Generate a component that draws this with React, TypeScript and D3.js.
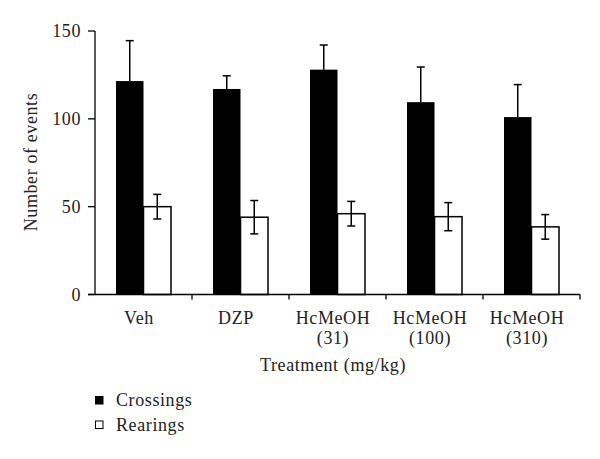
import React from "react";
import * as d3 from "d3";

const categories = ["Veh", "DZP", "HcMeOH\n(31)", "HcMeOH\n(100)", "HcMeOH\n(310)"];
const series = ["Crossings", "Rearings"];
const crossings = [121.5, 117, 128, 109.5, 101];
const crossingsErr = [23, 7.5, 14, 20, 18.5];
const rearings = [50, 44, 46, 44.3, 38.5];
const rearingsErr = [7, 9.5, 7, 8, 7];
const yTicks = [0, 50, 100, 150];

const W = 600;
const H = 459;
const FONT = "'Liberation Serif', 'Times New Roman', serif";
const LS = 0.6;

export default function App() {
  const x0 = 95;
  const x1 = 580;
  const yTop = 31;
  const yBot = 294.5;
  const x = d3.scaleBand<string>().domain(categories).range([x0, x1]).padding(0);
  const inner = d3.scaleBand<string>().domain(series).range([21, 76]).padding(0);
  const y = d3.scaleLinear().domain([0, 150]).range([yBot, yTop]);
  const bw = inner.bandwidth();

  return (
    <svg width={W} height={H} style={{ position: "absolute", left: 0, top: 0 }}>
      <rect x={0} y={0} width={W} height={H} fill="#fff" />
      {/* bars */}
      {categories.map((c, i) => {
        const bx = x(c)!;
        const cx = bx + inner("Crossings")!;
        const rx = bx + inner("Rearings")!;
        const cTop = y(crossings[i]);
        const rTop = y(rearings[i]);
        const cMid = cx + bw / 2;
        const rMid = rx + bw / 2;
        const cErrY = y(crossings[i] + crossingsErr[i]);
        const rHi = y(rearings[i] + rearingsErr[i]);
        const rLo = y(rearings[i] - rearingsErr[i]);
        return (
          <g key={c}>
            <rect x={cx} y={cTop} width={bw} height={yBot - cTop} fill="#000" />
            <line x1={cMid} x2={cMid} y1={cTop} y2={cErrY} stroke="#000" strokeWidth={1.5} />
            <line x1={cMid - 4} x2={cMid + 4} y1={cErrY} y2={cErrY} stroke="#000" strokeWidth={1.5} />
            <rect x={rx} y={rTop} width={bw} height={yBot - rTop} fill="#fff" stroke="#000" strokeWidth={1.5} />
            <line x1={rMid} x2={rMid} y1={rLo} y2={rHi} stroke="#000" strokeWidth={1.5} />
            <line x1={rMid - 4} x2={rMid + 4} y1={rHi} y2={rHi} stroke="#000" strokeWidth={1.5} />
            <line x1={rMid - 4} x2={rMid + 4} y1={rLo} y2={rLo} stroke="#000" strokeWidth={1.5} />
          </g>
        );
      })}
      {/* y axis */}
      <line x1={x0} x2={x0} y1={yTop} y2={yBot} stroke="#000" strokeWidth={1.3} />
      {yTicks.map((t) => (
        <g key={t}>
          <line x1={x0 - 7} x2={x0} y1={y(t)} y2={y(t)} stroke="#000" strokeWidth={1.3} />
          <text x={x0 - 14} y={y(t) + 6} textAnchor="end" fontFamily={FONT} fontSize={18} letterSpacing={LS} fill="#222">
            {t}
          </text>
        </g>
      ))}
      <text
        transform={`translate(37,162) rotate(-90)`}
        textAnchor="middle"
        fontFamily={FONT}
        fontSize={18}
        letterSpacing={LS}
        fill="#222"
      >
        Number of events
      </text>
      {/* x axis */}
      <line x1={x0 - 7} x2={x1} y1={yBot} y2={yBot} stroke="#000" strokeWidth={1.3} />
      {categories.map((c) => (
        <line key={"t" + c} x1={x(c)! + x.bandwidth()} x2={x(c)! + x.bandwidth()} y1={yBot} y2={yBot + 5} stroke="#000" strokeWidth={1.3} />
      ))}
      {categories.map((c) => {
        const lines = c.split("\n");
        const cx = x(c)! + x.bandwidth() / 2 - 4.5;
        return (
          <text key={"l" + c} textAnchor="middle" fontFamily={FONT} fontSize={18} letterSpacing={LS} fill="#222">
            {lines.map((ln, j) => (
              <tspan key={j} x={cx} y={324 + j * 20}>
                {ln}
              </tspan>
            ))}
          </text>
        );
      })}
      <text x={333} y={371} textAnchor="middle" fontFamily={FONT} fontSize={18} letterSpacing={LS} fill="#222">
        Treatment (mg/kg)
      </text>
      {/* legend */}
      {series.map((s, i) => (
        <g key={s}>
          <rect
            x={95.5}
            y={396.5 + i * 24.5}
            width={7.5}
            height={7.5}
            fill={i === 0 ? "#000" : "#fff"}
            stroke="#000"
            strokeWidth={1}
          />
          <text x={116} y={406 + i * 25} fontFamily={FONT} fontSize={18} letterSpacing={LS} fill="#222">
            {s}
          </text>
        </g>
      ))}
    </svg>
  );
}
